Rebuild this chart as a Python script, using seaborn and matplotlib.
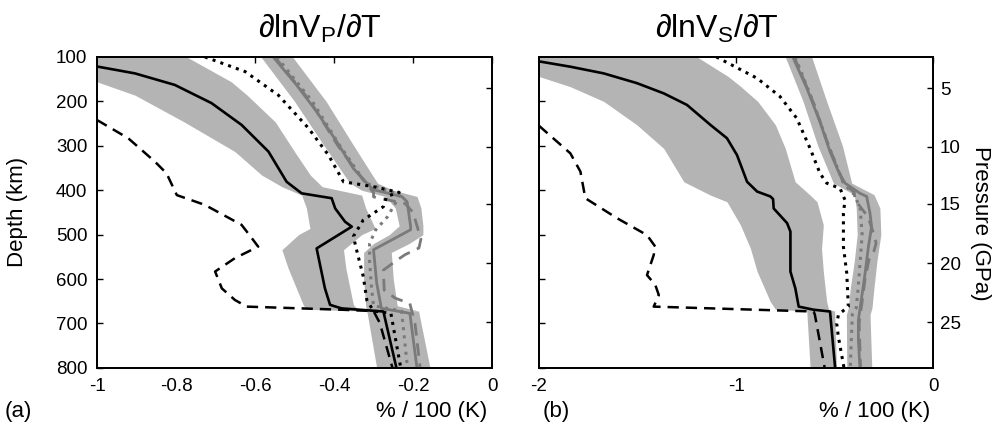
import matplotlib
matplotlib.use('Agg')
import matplotlib.pyplot as plt
import seaborn as sns

# ==============================
# Dados - painel (a) dlnVp/dT
# ==============================
vp_blk_z = [100, 122, 137, 163, 204, 253, 313, 381, 407, 418, 441, 471, 482, 531, 621, 658, 666, 673, 800]
vp_blk_v = [-1.12, -0.997, -0.904, -0.803, -0.710, -0.634, -0.566, -0.520, -0.482, -0.406, -0.397, -0.372,
            -0.355, -0.444, -0.423, -0.410, -0.381, -0.275, -0.242]

vp_bdash_z = [242, 283, 336, 362, 411, 433, 478, 508, 527, 553, 583, 621, 647, 662, 669, 672, 699, 800]
vp_bdash_v = [-1.0, -0.921, -0.853, -0.824, -0.798, -0.727, -0.634, -0.608, -0.592, -0.651, -0.701,
              -0.684, -0.651, -0.621, -0.381, -0.300, -0.284, -0.252]

vp_bdot_z = [100, 133, 186, 260, 321, 381, 392, 405, 414, 437, 467, 504, 534, 594, 647, 672, 677, 707, 800]
vp_bdot_v = [-0.727, -0.625, -0.541, -0.465, -0.414, -0.376, -0.30, -0.235, -0.267, -0.275, -0.326,
             -0.351, -0.343, -0.326, -0.317, -0.30, -0.256, -0.25, -0.231]

vp_gry_z = [100, 163, 223, 291, 351, 384, 399, 414, 426, 444, 482, 489, 534, 609, 666, 677, 800]
vp_gry_v = [-0.554, -0.495, -0.444, -0.393, -0.351, -0.317, -0.300, -0.229, -0.215, -0.212, -0.206,
            -0.206, -0.300, -0.292, -0.280, -0.208, -0.190]

vp_gdot_z = [100, 200, 300, 384, 396, 410, 430, 460, 490, 520, 560, 620, 660, 672, 800]
vp_gdot_v = [-0.545, -0.455, -0.385, -0.320, -0.28, -0.235, -0.245, -0.265, -0.295, -0.31, -0.31,
             -0.305, -0.30, -0.229, -0.214]

vp_gdash_z = [100, 200, 300, 384, 405, 415, 430, 450, 480, 510, 530, 545, 560, 580, 625, 643, 655, 700, 800]
vp_gdash_v = [-0.55, -0.46, -0.39, -0.32, -0.30, -0.30, -0.22, -0.20, -0.19, -0.18, -0.185, -0.22,
              -0.245, -0.275, -0.273, -0.245, -0.208, -0.195, -0.182]

# faixas de incerteza
vp_fa_z = [100, 156, 186, 246, 313, 366, 392, 411, 440, 486, 500, 534, 576, 658, 668, 672, 800]
vp_fa_lo = [-1.15, -1.0, -0.904, -0.78, -0.651, -0.583, -0.532, -0.482, -0.47, -0.461, -0.49, -0.532,
            -0.516, -0.478, -0.47, -0.317, -0.292]
vp_fa_hi = [-0.773, -0.66, -0.62, -0.549, -0.50, -0.46, -0.43, -0.33, -0.32, -0.296, -0.33, -0.376,
            -0.37, -0.351, -0.34, -0.186, -0.157]

vp_fb_z = [100, 200, 300, 384, 400, 414, 440, 480, 500, 520, 540, 600, 660, 672]
vp_fb_lo = [-0.585, -0.50, -0.425, -0.36, -0.33, -0.27, -0.245, -0.235, -0.26, -0.30, -0.325, -0.325, -0.32, -0.317]
vp_fb_hi = [-0.505, -0.42, -0.35, -0.29, -0.25, -0.19, -0.18, -0.175, -0.175, -0.21, -0.255, -0.25, -0.24, -0.186]

# ==============================
# Dados - painel (b) dlnVs/dT
# ==============================
vs_blk_z = [100, 110, 122, 137, 159, 182, 208, 253, 283, 321, 381, 403, 414, 420, 441, 474, 493, 583,
            621, 662, 669, 673, 800]
vs_blk_v = [-2.13, -2.0, -1.841, -1.672, -1.503, -1.367, -1.249, -1.130, -1.046, -0.995, -0.944, -0.893,
            -0.826, -0.812, -0.809, -0.741, -0.724, -0.724, -0.699, -0.682, -0.606, -0.523, -0.497]

vs_bdash_z = [255, 317, 358, 418, 463, 501, 527, 546, 591, 613, 636, 662, 673, 680, 800]
vs_bdash_v = [-2.0, -1.841, -1.790, -1.765, -1.604, -1.452, -1.410, -1.418, -1.452, -1.410, -1.392,
              -1.418, -0.606, -0.60, -0.55]

vs_bdot_z = [100, 148, 189, 238, 306, 362, 384, 396, 422, 452, 527, 587, 662, 680, 700, 729, 800]
vs_bdot_v = [-1.10, -0.893, -0.777, -0.692, -0.624, -0.574, -0.540, -0.472, -0.447, -0.455, -0.455,
             -0.438, -0.430, -0.48, -0.489, -0.481, -0.452]

vs_gry_z = [100, 170, 246, 313, 358, 384, 407, 414, 452, 482, 527, 587, 640, 692, 737, 800]
vs_gry_v = [-0.712, -0.641, -0.574, -0.523, -0.480, -0.447, -0.371, -0.337, -0.320, -0.312, -0.328,
            -0.345, -0.362, -0.379, -0.379, -0.371]

vs_gdot_z = [100, 200, 300, 384, 410, 440, 500, 560, 620, 665, 680, 800]
vs_gdot_v = [-0.70, -0.61, -0.53, -0.455, -0.40, -0.37, -0.36, -0.37, -0.38, -0.39, -0.41, -0.42]

vs_gdash_z = [100, 200, 300, 384, 405, 422, 460, 500, 519, 537, 556, 600, 700, 800]
vs_gdash_v = [-0.705, -0.61, -0.53, -0.455, -0.40, -0.396, -0.33, -0.30, -0.289, -0.30, -0.325,
              -0.345, -0.375, -0.368]

vs_fa_z = [100, 144, 167, 200, 253, 306, 381, 411, 426, 478, 531, 583, 651, 668, 672, 800]
vs_fa_lo = [-2.2, -2.0, -1.841, -1.672, -1.503, -1.367, -1.265, -1.130, -1.046, -0.978, -0.927,
            -0.893, -0.826, -0.80, -0.641, -0.624]
vs_fa_hi = [-1.198, -1.04, -0.975, -0.89, -0.80, -0.75, -0.70, -0.624, -0.589, -0.557, -0.566,
            -0.557, -0.54, -0.53, -0.50, -0.49]

vs_fb_z = [100, 200, 300, 384, 410, 440, 500, 560, 620, 665, 680, 800]
vs_fb_lo = [-0.75, -0.66, -0.585, -0.506, -0.40, -0.39, -0.385, -0.40, -0.42, -0.43, -0.44, -0.438]
vs_fb_hi = [-0.616, -0.54, -0.46, -0.413, -0.30, -0.27, -0.265, -0.285, -0.30, -0.31, -0.32, -0.311]

# eixos
prof_ticks = [100, 200, 300, 400, 500, 600, 700, 800]
press_labels = [5, 10, 15, 20, 25]
press_depths = [170, 302, 431, 564, 697]
vp_xticks = [-1, -0.8, -0.6, -0.4, -0.2, 0]
vp_xlabels = ['-1', '-0.8', '-0.6', '-0.4', '-0.2', '0']
vs_xticks = [-2, -1, 0]
vs_xlabels = ['-2', '-1', '0']

# ==============================
# Estilo
# ==============================
sns.set_style('white')
plt.rcParams['font.family'] = ['Liberation Sans', 'DejaVu Sans']
plt.rcParams['axes.unicode_minus'] = False
for k in ['text.color', 'axes.labelcolor', 'xtick.color', 'ytick.color', 'axes.edgecolor']:
    plt.rcParams[k] = 'black'

FAIXA = '#b4b4b4'
CINZA = '#7a7a7a'
PONTO = (0, (1, 1.7))
TRACO = (0, (4.5, 2.8))


def curva(ax, z, v, cor, estilo, lw):
    sns.lineplot(x=v, y=z, ax=ax, color=cor, linestyle=estilo, lw=lw,
                 sort=False, estimator=None, zorder=3)


def painel(ax, d, xlim, xticks, xlabels, rotulos_dir):
    ax.fill_betweenx(d['fa_z'], d['fa_lo'], d['fa_hi'], color=FAIXA, lw=0, zorder=1)
    ax.fill_betweenx(d['fb_z'], d['fb_lo'], d['fb_hi'], color=FAIXA, lw=0, zorder=1)
    curva(ax, d['gry_z'], d['gry_v'], CINZA, '-', 2.0)
    curva(ax, d['gdot_z'], d['gdot_v'], CINZA, PONTO, 2.2)
    curva(ax, d['gdash_z'], d['gdash_v'], CINZA, TRACO, 2.0)
    curva(ax, d['bdot_z'], d['bdot_v'], 'black', PONTO, 2.2)
    curva(ax, d['bdash_z'], d['bdash_v'], 'black', TRACO, 1.8)
    curva(ax, d['blk_z'], d['blk_v'], 'black', '-', 1.9)

    ax.set_xlim(*xlim)
    ax.set_ylim(800, 100)
    ax.set_xticks(xticks)
    ax.set_xticklabels(xlabels)
    ax.set_yticks(prof_ticks)
    ax.tick_params(direction='in', length=4, width=1, labelsize=13.5,
                   top=True, right=False, pad=7)
    for s in ax.spines.values():
        s.set_linewidth(1.3)
        s.set_color('black')

    ax2 = ax.twinx()
    ax2.set_ylim(800, 100)
    ax2.set_yticks(press_depths)
    if rotulos_dir:
        ax2.set_yticklabels([str(p) for p in press_labels])
    else:
        ax2.set_yticklabels([])
    ax2.tick_params(direction='in', length=4, width=1, labelsize=13.5, pad=5)
    for s in ax2.spines.values():
        s.set_linewidth(1.3)
    return ax2


fig = plt.figure(figsize=(9.96, 4.38), dpi=100)
ax_a = fig.add_axes([0.0974, 0.160, 0.3966, 0.710])
ax_b = fig.add_axes([0.5412, 0.160, 0.3956, 0.710])

dados_vp = dict(blk_z=vp_blk_z, blk_v=vp_blk_v, bdash_z=vp_bdash_z, bdash_v=vp_bdash_v,
                bdot_z=vp_bdot_z, bdot_v=vp_bdot_v, gry_z=vp_gry_z, gry_v=vp_gry_v,
                gdot_z=vp_gdot_z, gdot_v=vp_gdot_v, gdash_z=vp_gdash_z, gdash_v=vp_gdash_v,
                fa_z=vp_fa_z, fa_lo=vp_fa_lo, fa_hi=vp_fa_hi,
                fb_z=vp_fb_z, fb_lo=vp_fb_lo, fb_hi=vp_fb_hi)
dados_vs = dict(blk_z=vs_blk_z, blk_v=vs_blk_v, bdash_z=vs_bdash_z, bdash_v=vs_bdash_v,
                bdot_z=vs_bdot_z, bdot_v=vs_bdot_v, gry_z=vs_gry_z, gry_v=vs_gry_v,
                gdot_z=vs_gdot_z, gdot_v=vs_gdot_v, gdash_z=vs_gdash_z, gdash_v=vs_gdash_v,
                fa_z=vs_fa_z, fa_lo=vs_fa_lo, fa_hi=vs_fa_hi,
                fb_z=vs_fb_z, fb_lo=vs_fb_lo, fb_hi=vs_fb_hi)

painel(ax_a, dados_vp, (-1, 0), vp_xticks, vp_xlabels, False)
painel(ax_b, dados_vs, (-2, 0), vs_xticks, vs_xlabels, True)
ax_b.set_yticklabels([])

fig.text(17 / 996, 0.515, 'Depth (km)', rotation=90, fontsize=16, ha='center', va='center')
fig.text(0.984, 0.49, 'Pressure (GPa)', rotation=270, fontsize=16, ha='center', va='center')

fig.text(320 / 996, 1 - 28 / 438, r'∂lnV$_\mathregular{P}$/∂T', fontsize=23, ha='center', va='center')
fig.text(717 / 996, 1 - 28 / 438, r'∂lnV$_\mathregular{S}$/∂T', fontsize=23, ha='center', va='center')

fig.text(5 / 996, 1 - 411 / 438, '(a)', fontsize=16, ha='left', va='center')
fig.text(487 / 996, 1 - 411 / 438, '% / 100 (K)', fontsize=16, ha='right', va='center')
fig.text(543 / 996, 1 - 411 / 438, '(b)', fontsize=16, ha='left', va='center')
fig.text(930 / 996, 1 - 411 / 438, '% / 100 (K)', fontsize=16, ha='right', va='center')

fig.savefig('out.png', dpi=100)
